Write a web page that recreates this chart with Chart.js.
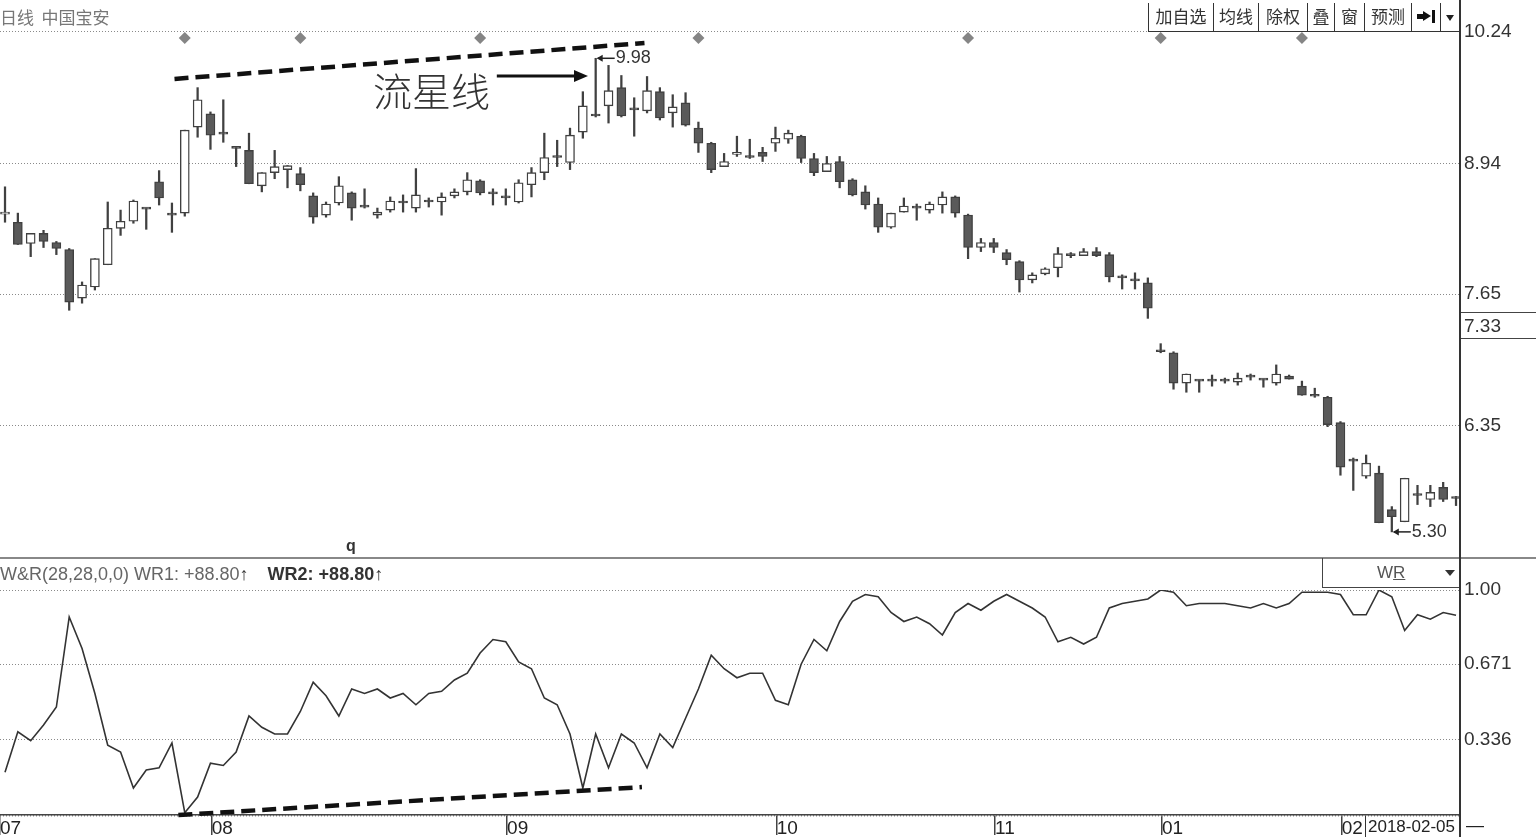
<!DOCTYPE html>
<html><head><meta charset="utf-8">
<script src="https://cdn.jsdelivr.net/npm/chart.js@4.4.1/dist/chart.umd.min.js"></script>
<style>
html,body{margin:0;padding:0;background:#fff;width:1536px;height:837px;overflow:hidden;position:relative;font-family:"Liberation Sans",Arial,sans-serif;}
.abs{position:absolute;}
canvas{position:absolute;left:0;}
#toolbar{position:absolute;left:1148px;top:3px;height:28px;display:flex;border-bottom:1.5px solid #333;}
#toolbar > div{border-left:1.5px solid #333;height:28px;line-height:28px;text-align:center;font:17px "Noto Sans CJK SC",sans-serif;color:#333;box-sizing:border-box;position:relative;}
</style></head><body>
<canvas id="price" width="1536" height="558" style="top:0;width:1536px;height:558px"></canvas>
<canvas id="wr" width="1536" height="279" style="top:558px;width:1536px;height:279px"></canvas>

<div class="abs" style="left:0;top:4px;font:17px 'Noto Sans CJK SC',sans-serif;color:#777;">日线&nbsp;&nbsp;中国宝安</div>
<div id="toolbar">
  <div style="width:65px">加自选</div><div style="width:45px">均线</div><div style="width:49px">除权</div><div style="width:27px">叠</div><div style="width:30px">窗</div><div style="width:47px">预测</div>
  <div style="width:29px"><span class="abs" style="left:5px;top:8px;width:7px;height:5px;background:#111;margin-top:3px"></span><span class="abs" style="left:11px;top:8px;width:0;height:0;border-top:5.5px solid transparent;border-bottom:5.5px solid transparent;border-left:8px solid #111;"></span><span class="abs" style="left:20px;top:7px;width:3px;height:13px;background:#111;"></span></div>
  <div style="width:20px"><span class="abs" style="left:5px;top:12px;width:0;height:0;border-left:4.5px solid transparent;border-right:4.5px solid transparent;border-top:6px solid #222;"></span></div>
</div>
<div class="abs" style="left:373px;top:70px;font:39px/1 'Noto Sans CJK SC',sans-serif;color:#333;font-weight:300;">流星线</div>
<div class="abs" style="left:346px;top:537px;font:bold 16px 'Liberation Sans',sans-serif;color:#333;">q</div>
<div class="abs" style="left:0;top:557px;width:1536px;height:2px;background:#888;"></div>
<div class="abs" id="legend" style="left:0;top:564px;font:18px 'Liberation Sans',sans-serif;color:#666;white-space:pre;"></div>
<div class="abs" style="left:1322px;top:558px;width:137px;height:29px;border-left:1.5px solid #444;border-bottom:1.5px solid #444;">
  <span class="abs" style="left:54px;top:5px;font:17px 'Liberation Sans',sans-serif;color:#555;">W<u>R</u></span>
  <span class="abs" style="left:122px;top:12px;width:0;height:0;border-left:5px solid transparent;border-right:5px solid transparent;border-top:6px solid #333;"></span>
</div>
<div class="abs" style="left:1460px;top:312px;width:76px;height:0;border-top:1.5px solid #444;"></div>
<div class="abs" style="left:1460px;top:338px;width:76px;height:0;border-top:1.5px solid #444;"></div>
<div class="abs" style="left:1459px;top:0;width:2px;height:837px;background:#333;"></div>
<div class="abs" style="left:1365px;top:816px;width:94px;height:21px;border-left:1.5px solid #333;"></div>
<div class="abs" style="left:1368px;top:817px;font:17px/20px 'Liberation Sans',sans-serif;color:#222;white-space:nowrap;">2018-02-05</div>
<div class="abs" style="left:1466px;top:815px;font:18px 'Liberation Sans',sans-serif;color:#222;">—</div>

<script>
// ---------- data ----------
const opens = [
8.44,8.36,8.15,8.25,8.16,8.09,7.61,7.72,7.94,8.30,
8.37,8.49,8.76,8.44,8.45,9.30,9.43,9.24,9.09,9.07,
8.72,8.85,8.88,8.84,8.62,8.43,8.55,8.65,8.51,8.43,
8.48,8.55,8.50,8.56,8.56,8.62,8.66,8.77,8.65,8.60,
8.56,8.73,8.85,9.00,8.95,9.25,9.42,9.51,9.69,9.48,
9.46,9.65,9.44,9.54,9.29,9.14,8.91,9.03,9.00,9.05,
9.14,9.18,9.21,8.99,8.86,8.96,8.78,8.66,8.54,8.31,
8.46,8.50,8.48,8.53,8.61,8.43,8.11,8.16,8.06,7.97,
7.79,7.85,7.91,8.03,8.03,8.07,8.04,7.81,7.79,7.76,
7.08,7.07,6.77,6.79,6.79,6.80,6.78,6.83,6.80,6.77,
6.84,6.74,6.64,6.63,6.38,6.01,5.85,5.88,5.52,5.40,
5.66,5.62,5.74,5.64];
const highs = [
8.71,8.45,8.25,8.28,8.17,8.10,7.77,8.00,8.56,8.48,
8.58,8.50,8.87,8.55,9.27,9.69,9.45,9.57,9.10,9.24,
8.85,9.07,8.92,8.90,8.65,8.56,8.81,8.66,8.69,8.50,
8.61,8.63,8.89,8.60,8.65,8.69,8.85,8.78,8.69,8.69,
8.78,8.90,9.24,9.17,9.29,9.65,9.98,9.91,9.81,9.59,
9.80,9.69,9.62,9.64,9.35,9.15,9.04,9.21,9.18,9.10,
9.30,9.27,9.22,9.04,9.01,9.01,8.79,8.72,8.60,8.45,
8.60,8.54,8.56,8.66,8.62,8.44,8.20,8.20,8.09,7.98,
7.86,7.91,8.11,8.06,8.10,8.11,8.06,7.84,7.86,7.81,
7.16,7.08,6.86,6.80,6.85,6.82,6.87,6.86,6.81,6.95,
6.85,6.79,6.72,6.64,6.39,6.03,6.06,5.95,5.55,5.83,
5.76,5.76,5.79,5.65];
const lows = [
8.36,8.14,8.02,8.11,8.04,7.49,7.56,7.69,7.94,8.23,
8.35,8.29,8.53,8.26,8.42,9.20,9.08,9.15,8.91,8.74,
8.66,8.79,8.70,8.67,8.35,8.41,8.53,8.38,8.50,8.40,
8.46,8.46,8.46,8.51,8.43,8.60,8.63,8.63,8.53,8.53,
8.55,8.61,8.78,8.91,8.88,9.19,9.40,9.34,9.40,9.21,
9.44,9.37,9.30,9.31,9.05,8.85,8.91,9.01,8.99,8.96,
9.06,9.14,8.95,8.82,8.86,8.70,8.62,8.49,8.26,8.30,
8.46,8.38,8.45,8.45,8.41,8.00,8.07,8.06,7.94,7.67,
7.76,7.84,7.82,8.01,8.03,8.02,7.77,7.70,7.70,7.41,
7.07,6.71,6.68,6.68,6.74,6.77,6.75,6.80,6.73,6.75,
6.81,6.65,6.63,6.34,5.86,5.71,5.83,5.39,5.30,5.40,
5.57,5.55,5.60,5.56];
const closes = [
8.45,8.14,8.25,8.17,8.10,7.57,7.74,8.00,8.30,8.37,
8.57,8.49,8.60,8.43,9.27,9.57,9.22,9.23,9.09,8.74,
8.85,8.91,8.92,8.73,8.41,8.54,8.72,8.50,8.51,8.46,
8.57,8.55,8.63,8.56,8.61,8.66,8.78,8.65,8.64,8.60,
8.75,8.85,9.00,9.00,9.22,9.51,9.41,9.66,9.41,9.47,
9.66,9.39,9.50,9.32,9.14,8.88,8.96,9.04,9.00,9.01,
9.19,9.24,8.99,8.85,8.94,8.76,8.63,8.53,8.31,8.45,
8.52,8.50,8.54,8.61,8.45,8.11,8.16,8.11,7.99,7.79,
7.84,7.90,8.05,8.03,8.07,8.03,7.82,7.81,7.78,7.51,
7.08,6.77,6.86,6.79,6.79,6.79,6.82,6.83,6.80,6.86,
6.81,6.65,6.64,6.36,5.94,6.00,5.98,5.39,5.45,5.83,
5.66,5.69,5.62,5.63];
const wr = [
0.19,0.37,0.33,0.40,0.48,0.88,0.74,0.54,0.31,0.28,
0.12,0.20,0.21,0.32,0.01,0.08,0.23,0.22,0.28,0.44,
0.39,0.36,0.36,0.46,0.59,0.53,0.44,0.56,0.54,0.56,
0.52,0.54,0.49,0.54,0.55,0.60,0.63,0.72,0.78,0.77,
0.68,0.65,0.52,0.49,0.36,0.12,0.36,0.21,0.36,0.32,
0.21,0.36,0.30,0.43,0.56,0.71,0.65,0.61,0.63,0.63,
0.51,0.49,0.67,0.78,0.73,0.86,0.95,0.98,0.97,0.90,
0.86,0.88,0.85,0.80,0.90,0.94,0.91,0.95,0.98,0.95,
0.92,0.88,0.77,0.79,0.76,0.79,0.92,0.94,0.95,0.96,
1.00,0.99,0.93,0.94,0.94,0.94,0.93,0.92,0.94,0.92,
0.94,0.99,0.99,0.99,0.98,0.89,0.89,1.00,0.97,0.82,
0.89,0.87,0.90,0.888];
const priceTicks = [6.35, 7.33, 7.65, 8.94, 10.24];
const wrTicks = [0, 0.336, 0.671, 1.00];
const monthLabels = ['07','08','09','10','11','01','02'];
const monthStartIdx = [0, 16, 39, 60, 77, 90, 104];
const markerIdx = [14, 23, 37, 54, 75, 90, 101];
// annotation anchors in data units (candle index, price / WR)
const topTrend = [{x:13.2, y:9.776}, {x:49.8, y:10.131}];
const bottomTrend = [{x:13.5, y:0.0}, {x:49.6, y:0.124}];
const arrowFrom = {x:38.3, y:9.805}, arrowTo = {x:45.4, y:9.805};

// ---------- layout constants ----------
const X_MIN = -0.39, X_MAX = 113.31;
const P_MIN = 5.042, P_MAX = 10.556;
const MARK_LEVEL = 10.18;
const AXIS_FONT = '"Liberation Sans",Arial,sans-serif';
const N = opens.length;
const idx = opens.map((_, i) => i);
const up = idx.map(i => closes[i] > opens[i]);

document.getElementById('legend').innerHTML =
  'W&amp;R(28,28,0,0) WR1: +' + (wr[N-1]*100).toFixed(2) + '<b style="color:#333">↑</b>' +
  '<b style="color:#333;padding-left:19px">WR2: +' + (wr[N-1]*100).toFixed(2) + '↑</b>';

const priceAnno = {
  id: 'priceAnno',
  afterDatasetsDraw(chart) {
    const {ctx, scales: {x, y}} = chart;
    ctx.save();
    const ax1 = x.getPixelForValue(arrowFrom.x), ax2 = x.getPixelForValue(arrowTo.x), ay = y.getPixelForValue(arrowFrom.y);
    ctx.strokeStyle = '#111'; ctx.fillStyle = '#111'; ctx.lineWidth = 3;
    ctx.beginPath(); ctx.moveTo(ax1, ay); ctx.lineTo(ax2 - 10, ay); ctx.stroke();
    ctx.beginPath(); ctx.moveTo(ax2, ay); ctx.lineTo(ax2 - 14, ay - 6); ctx.lineTo(ax2 - 14, ay + 6); ctx.closePath(); ctx.fill();
    const hi = Math.max(...highs), lo = Math.min(...lows);
    const hiI = highs.indexOf(hi), loI = lows.indexOf(lo);
    [[hiI, hi], [loI, lo]].forEach(([i, v]) => {
      const px = x.getPixelForValue(i), py = y.getPixelForValue(v);
      ctx.strokeStyle = '#222'; ctx.fillStyle = '#222'; ctx.lineWidth = 1.5;
      ctx.beginPath(); ctx.moveTo(px + 2, py); ctx.lineTo(px + 19, py); ctx.stroke();
      ctx.beginPath(); ctx.moveTo(px + 1, py); ctx.lineTo(px + 7, py - 3.5); ctx.lineTo(px + 7, py + 3.5); ctx.closePath(); ctx.fill();
      ctx.font = '18px "Liberation Sans",sans-serif'; ctx.textBaseline = 'middle'; ctx.textAlign = 'left';
      ctx.fillStyle = '#333';
      ctx.fillText(v.toFixed(2), px + 20, py);
    });
    ctx.restore();
  }
};

new Chart(document.getElementById('price'), {
  type: 'bar',
  data: { datasets: [
    { type: 'line', data: topTrend, borderColor: '#111', borderWidth: 4.5, borderDash: [14, 7], pointRadius: 0, order: 0, clip: false },
    { type: 'line', data: markerIdx.map(i => ({x: i, y: MARK_LEVEL})), showLine: false, pointStyle: 'rectRot', pointRadius: 6, pointBackgroundColor: '#858585', pointBorderColor: '#858585', pointBorderWidth: 0, order: 0 },
    { type: 'bar', data: idx.map(i => ({x: i, y: [opens[i], closes[i]]})), backgroundColor: idx.map(i => up[i] ? '#ffffff' : '#5a5a5a'), borderColor: '#404040', borderWidth: 1.4, borderSkipped: false, barThickness: 9, grouped: false, minBarLength: 2, order: 1 },
    { type: 'bar', data: idx.map(i => ({x: i, y: [lows[i], highs[i]]})), backgroundColor: '#404040', borderWidth: 0, barThickness: 1.6, grouped: false, order: 2 }
  ]},
  options: {
    responsive: false, animation: false, devicePixelRatio: 1,
    layout: { padding: 0, autoPadding: false },
    plugins: { legend: { display: false }, tooltip: { enabled: false } },
    scales: {
      x: { type: 'linear', min: X_MIN, max: X_MAX, offset: false, grace: 0, display: false },
      y: { type: 'linear', position: 'right', min: P_MIN, max: P_MAX,
        afterBuildTicks: s => { s.ticks = priceTicks.map(v => ({value: v})); },
        afterFit: s => { s.width = 76; s.paddingTop = 0; s.paddingBottom = 0; },
        ticks: { color: '#333', font: { family: AXIS_FONT, size: 19 }, padding: 4, callback: v => v.toFixed(2) },
        grid: { color: c => (c.tick && c.tick.value === 7.33) ? 'rgba(0,0,0,0)' : '#8a8a8a', lineWidth: 1, drawTicks: false },
        border: { display: false, dash: [1, 2] }
      }
    }
  },
  plugins: [priceAnno]
});

new Chart(document.getElementById('wr'), {
  type: 'line',
  data: { datasets: [
    { data: bottomTrend, borderColor: '#111', borderWidth: 4.5, borderDash: [14, 7], pointRadius: 0, clip: false },
    { data: wr.map((v, i) => ({x: i, y: v})), borderColor: '#333', borderWidth: 1.6, pointRadius: 0, tension: 0 }
  ]},
  options: {
    responsive: false, animation: false, devicePixelRatio: 1,
    layout: { padding: { top: 32, left: 0, right: 0, bottom: 0 }, autoPadding: false },
    plugins: { legend: { display: false }, tooltip: { enabled: false } },
    scales: {
      x: { type: 'linear', min: X_MIN, max: X_MAX, offset: false, position: 'bottom',
        afterBuildTicks: s => { s.ticks = monthStartIdx.map(v => ({value: v === 0 ? X_MIN : v + 0.1})); },
        afterFit: s => { s.height = 22; s.paddingLeft = 0; s.paddingRight = 0; },
        ticks: { autoSkip: false, maxRotation: 0, minRotation: 0, align: 'start', padding: -18, color: '#222',
                 font: { family: AXIS_FONT, size: 19 }, callback: (v, i) => monthLabels[i] },
        grid: { drawOnChartArea: false, drawTicks: true, tickLength: 20, color: '#444', lineWidth: 1.5 },
        border: { display: true, color: '#444', width: 1.5 }
      },
      y: { type: 'linear', position: 'right', min: 0, max: 1,
        afterBuildTicks: s => { s.ticks = wrTicks.map(v => ({value: v})); },
        afterFit: s => { s.width = 76; s.paddingTop = 0; s.paddingBottom = 0; },
        ticks: { color: '#333', font: { family: AXIS_FONT, size: 19 }, padding: 4,
                 callback: v => v === 0 ? '' : (v === 1 ? '1.00' : v.toFixed(3)) },
        grid: { drawTicks: false, color: '#8a8a8a', lineWidth: c => (c.tick && c.tick.value === 0) ? 2.5 : 1 },
        border: { display: false, dash: [1, 2] }
      }
    }
  }
});
</script>
</body></html>
